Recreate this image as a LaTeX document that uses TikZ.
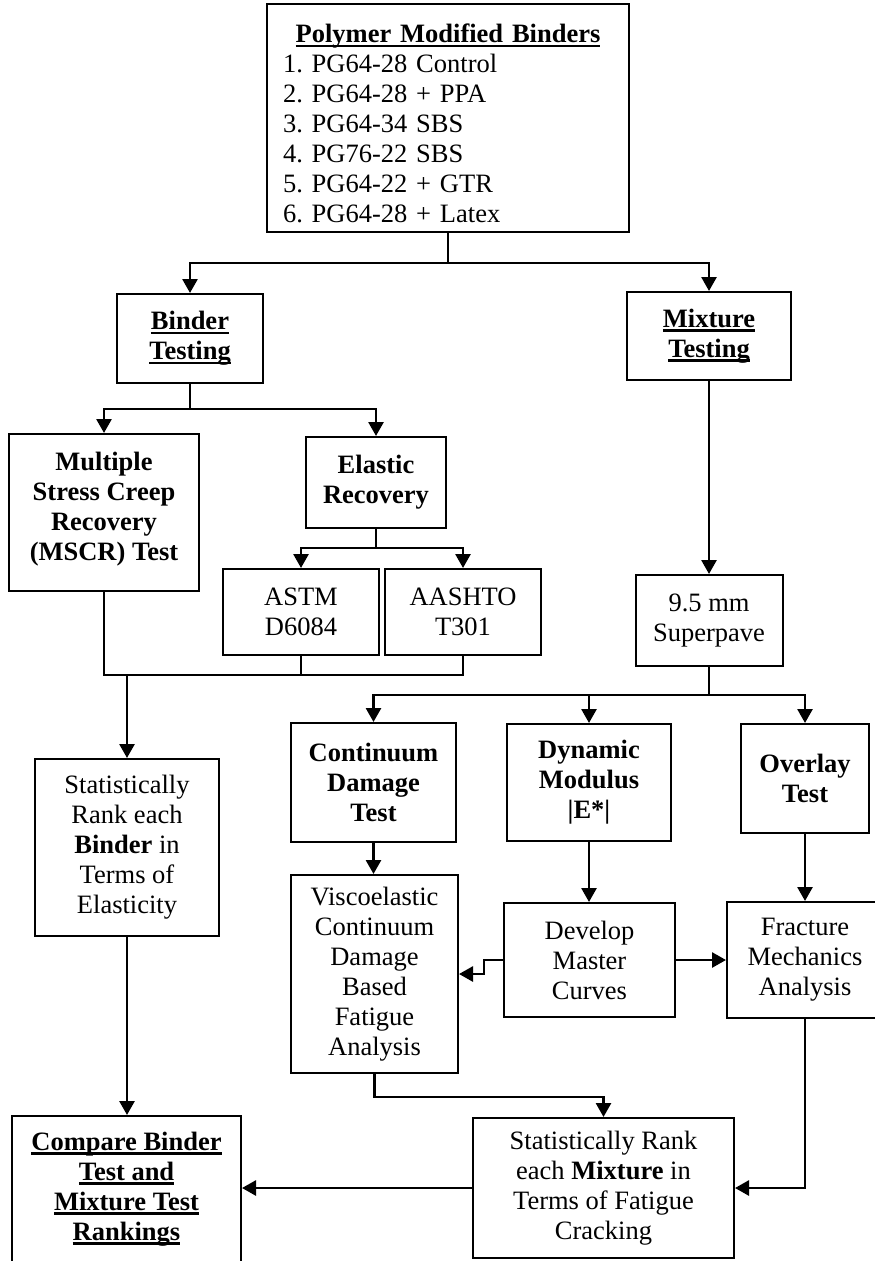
\documentclass[tikz,border=0pt]{standalone}
\usepackage{fontspec}
\setmainfont{Liberation Serif}
\usetikzlibrary{arrows.meta}
\frenchspacing
\newcommand\myul[1]{\setbox0\hbox{#1}\rlap{\rule[-4.5pt]{\wd0}{2.6pt}}\box0}
\tikzset{
  box/.style={draw, line width=2pt, align=center, inner sep=0pt,
    font=\fontsize{26.5}{30}\selectfont\frenchspacing},
  conn/.style={line width=2.7pt},
  arr/.style={conn, -{Triangle[length=14pt,width=15pt]}}
}
\begin{document}
\begin{tikzpicture}[x=1pt,y=-1pt]
\useasboundingbox (0,0) rectangle (875,1261);
\clip (0,0) rectangle (875,1261);
\fill[white] (0,0) rectangle (875,1261);
% nodes
\node[box, minimum width=362, minimum height=228, text width=330, align=left] (top) at (448,118)
  {\rule{0pt}{30pt}\makebox[330pt][c]{\myul{\textbf{Polymer Modified Binders}}}\\
   1. PG64-28 Control\\ 2. PG64-28 + PPA\\ 3. PG64-34 SBS\\ 4. PG76-22 SBS\\ 5. PG64-22 + GTR\\ 6. PG64-28 + Latex};
\node[box, minimum width=146, minimum height=89] (binder) at (190,338.5)
  {\myul{\textbf{Binder}}\\ \myul{\textbf{Testing}}};
\node[box, minimum width=164, minimum height=88] (mixture) at (709,336)
  {\myul{\textbf{Mixture}}\\ \myul{\textbf{Testing}}};
\node[box, minimum width=190, minimum height=157] (mscr) at (104,512.5)
  {\textbf{Multiple}\\ \textbf{Stress Creep}\\ \textbf{Recovery}\\ \textbf{(MSCR) Test}\\[-18pt]\mbox{}};
\node[box, minimum width=140, minimum height=91] (elastic) at (376,482.5)
  {\textbf{Elastic}\\ \textbf{Recovery}};
\node[box, minimum width=156, minimum height=86] (astm) at (301,612)
  {ASTM\\ D6084};
\node[box, minimum width=156, minimum height=86] (aashto) at (463,612)
  {AASHTO\\ T301};
\node[box, minimum width=184, minimum height=177] (statbinder) at (127,847.5)
  {Statistically\\ Rank each\\ \textbf{Binder} in\\ Terms of\\ Elasticity};
\node[box, minimum width=147, minimum height=91] (superpave) at (709,620.5)
  {9.5 mm\\ Superpave};
\node[box, minimum width=165, minimum height=119] (continuum) at (373.5,782.5)
  {\textbf{Continuum}\\ \textbf{Damage}\\ \textbf{Test}};
\node[box, minimum width=164, minimum height=117] (dynamic) at (589,782.5)
  {\textbf{Dynamic}\\ \textbf{Modulus}\\ \textbf{|E*|}};
\node[box, minimum width=128, minimum height=109] (overlay) at (805,778.5)
  {\textbf{Overlay}\\ \textbf{Test}};
\node[box, minimum width=167, minimum height=198] (visco) at (374.5,974)
  {Viscoelastic\\ Continuum\\ Damage\\ Based\\ Fatigue\\ Analysis};
\node[box, minimum width=171, minimum height=114] (develop) at (589.5,960)
  {Develop\\ Master\\ Curves};
\node[box, minimum width=156, minimum height=116] (fracture) at (805,960)
  {Fracture\\ Mechanics\\ Analysis};
\node[box, minimum width=261, minimum height=140] (statmix) at (603.5,1188)
  {Statistically Rank\\ each \textbf{Mixture} in\\ Terms of Fatigue\\ Cracking};
\node[box, minimum width=229, minimum height=170] (compare) at (126.5,1201)
  {\myul{\textbf{Compare Binder}}\\ \myul{\textbf{Test and}}\\ \myul{\textbf{Mixture Test}}\\ \myul{\textbf{Rankings}}\\ \mbox{}};
% junctions
\coordinate (j1) at (448,263);
\coordinate (j2) at (190,409);
\coordinate (j3) at (376,548);
\coordinate (j4) at (127,675);
\coordinate (j5) at (709,695);
% connectors
\draw[conn] (top.south) -- (j1);
\draw[arr] (j1) -| (binder.north);
\draw[arr] (j1) -| (mixture.north);
\draw[conn] (binder.south) -- (j2);
\draw[arr] (j2) -| (mscr.north);
\draw[arr] (j2) -| (elastic.north);
\draw[conn] (elastic.south) -- (j3);
\draw[arr] (j3) -| (astm.north);
\draw[arr] (j3) -| (aashto.north);
\draw[conn] (mscr.south) |- (aashto.south |- j4) -- (aashto.south);
\draw[conn] (astm.south) -- (astm.south |- j4);
\draw[arr] (j4) -- (statbinder.north);
\draw[arr] (statbinder.south) -- (compare.north -| statbinder.south);
\draw[arr] (mixture.south) -- (superpave.north);
\draw[conn] (superpave.south) -- (j5);
\draw[arr] (j5) -| (continuum.north);
\draw[arr] (j5) -| (overlay.north);
\draw[arr] (dynamic.north |- j5) -- (dynamic.north);
\draw[arr] (continuum.south) -- (visco.north -| continuum.south);
\draw[arr] (dynamic.south) -- (develop.north -| dynamic.south);
\draw[arr] (overlay.south) -- (fracture.north);
\draw[arr] (develop.east) -- (fracture.west);
\draw[arr] (develop.west) -- ++(-19,0) |- (visco.east);
\draw[arr] (visco.south) -- ++(0,23) -| (statmix.north);
\draw[arr] (fracture.south) |- (statmix.east);
\draw[arr] (statmix.west) -- (statmix.west -| compare.east);
\end{tikzpicture}
\end{document}
